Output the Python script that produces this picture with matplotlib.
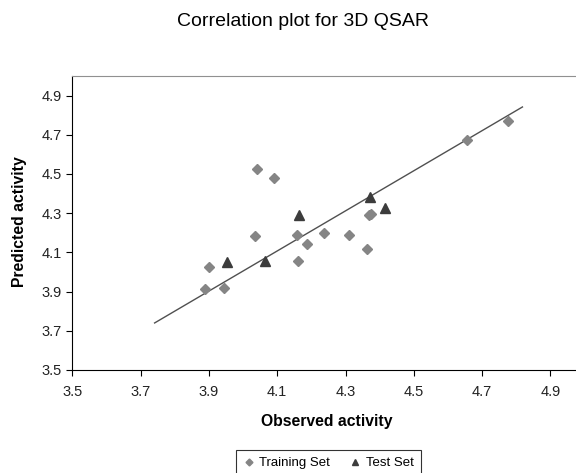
import matplotlib.pyplot as plt

plt.rcParams['font.family'] = ['Liberation Sans', 'DejaVu Sans']

# observed / predicted activity
train_obs = [4.042, 4.092, 4.036, 3.900, 3.889, 3.945, 4.157, 4.187, 4.162,
             4.237, 4.309, 4.362, 4.368, 4.376, 4.655, 4.777]
train_pred = [4.528, 4.480, 4.182, 4.027, 3.913, 3.919, 4.187, 4.143, 4.058,
              4.201, 4.187, 4.117, 4.293, 4.298, 4.673, 4.772]
test_obs = [3.953, 4.063, 4.163, 4.373, 4.416]
test_pred = [4.049, 4.054, 4.293, 4.381, 4.324]
# regression line end points
line_x = [3.741, 4.818]
line_y = [3.740, 4.842]
ticks = [3.5, 3.7, 3.9, 4.1, 4.3, 4.5, 4.7, 4.9]

fig = plt.figure(figsize=(5.76, 4.73), dpi=100)
ax = fig.add_axes([72.3/576, 103/473, 512.3/576, 294/473])

ax.plot(line_x, line_y, color='#505050', lw=1.0, zorder=1)
ax.plot(train_obs, train_pred, 'D', color='#858585', ms=5, mec='#858585',
        ls='none', label='Training Set', zorder=2)
ax.plot(test_obs, test_pred, '^', color='#3c3c3c', ms=6.5, ls='none',
        label='Test Set', zorder=3)

ax.set_xlim(3.5, 5.0)
ax.set_ylim(3.5, 5.0)
ax.set_xticks(ticks)
ax.set_yticks(ticks)
ax.set_xticklabels([str(t) for t in ticks])
ax.set_yticklabels([str(t) for t in ticks])
ax.tick_params(direction='out', length=4.5, width=0.8, labelsize=10.5,
               colors='black', labelcolor='#222222')
ax.tick_params(axis='x', pad=6)
ax.tick_params(axis='y', pad=3)
ax.spines['right'].set_visible(False)
ax.spines['top'].set_color('#909090')
ax.spines['left'].set_color('black')
ax.spines['bottom'].set_color('black')

fig.text(303/576, 1 - 21/473, 'Correlation plot for 3D QSAR', ha='center',
         va='center', fontsize=14)
fig.text(327/576, 1 - 421/473, 'Observed activity', ha='center', va='center',
         fontsize=11.3, fontweight='bold')
fig.text(20/576, 1 - 222/473, 'Predicted activity', ha='center', va='center',
         rotation=90, fontsize=11.3, fontweight='bold')

leg = fig.legend(loc='center', bbox_to_anchor=(328.5/576, 1 - 463/473), ncol=2,
                 frameon=True, fancybox=False, fontsize=9.5, handlelength=0.8,
                 handletextpad=0.4, columnspacing=1.5, borderpad=0.55,
                 markerscale=0.7)
leg.get_frame().set_edgecolor('black')
leg.get_frame().set_linewidth(0.8)

fig.savefig('out.png', dpi=100)
